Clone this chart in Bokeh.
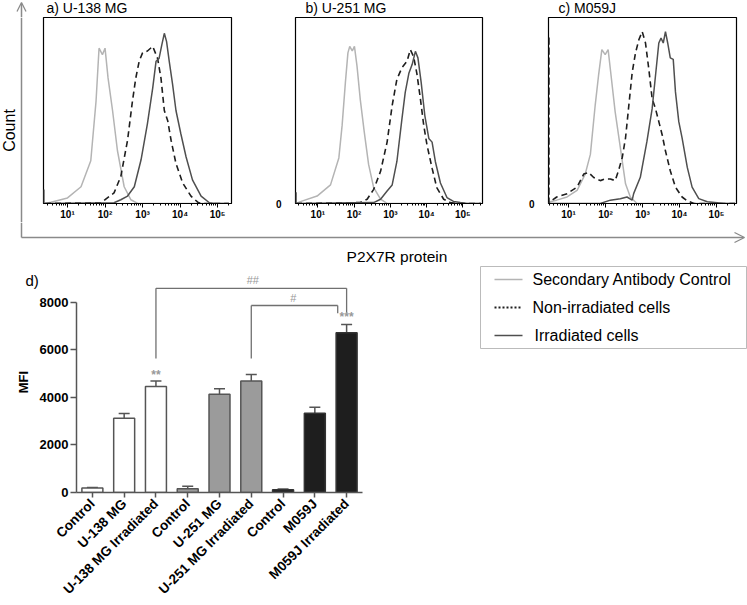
import math
import numpy as np
from bokeh.plotting import figure
from bokeh.layouts import row, column
from bokeh.models import (ColumnDataSource, FixedTicker, Range1d, FactorRange, Whisker, TeeHead,
                          Arrow, OpenHead, CustomJSTickFormatter)
from bokeh.transform import dodge
from bokeh.core.properties import value
from bokeh.embed import file_html
from bokeh.resources import INLINE

FONT = "Liberation Sans"

# ---------------- flow cytometry histograms (log10 intensity, % of max count) -------------
panel_titles = ["a) U-138 MG", "b) U-251 MG", "c) M059J"]

a_ctrl_log = [0.40, 0.56, 1.00, 1.36, 1.62, 1.76, 1.84, 1.93, 2.00, 2.08, 2.20, 2.33, 2.51, 2.69, 2.87, 5.30]
a_ctrl_cnt = [0, 0.7, 3, 9, 23, 55, 83.5, 80, 83.5, 67.5, 50, 28.5, 9, 2, 0, 0]
a_non_log = [0.40, 1.89, 2.24, 2.42, 2.60, 2.73, 2.82, 2.91, 3.00, 3.13, 3.27, 3.40, 3.49, 3.58, 3.67,
             3.76, 3.89, 4.07, 4.29, 4.47, 4.56, 5.30]
a_non_cnt = [0, 0.4, 5.7, 14.5, 34, 55, 67.5, 76.5, 81, 82, 84.5, 78, 67.5, 50, 44.5, 34, 21.5, 11, 4, 0.7, 0, 0]
a_irr_log = [0.37, 0.37, 0.37, 2.24, 2.42, 2.60, 2.78, 2.96, 3.13, 3.27, 3.36, 3.44, 3.51, 3.58, 3.64,
             3.71, 3.80, 3.89, 4.02, 4.16, 4.33, 4.56, 4.78, 4.91, 5.30]
a_irr_cnt = [0, 7.5, 0, 0.4, 2, 4, 9, 23.5, 43, 62, 76.5, 78, 85, 91.5, 87, 76.5, 64, 50, 37.5, 25, 12.7,
             4, 0.4, 0, 0]

b_ctrl_log = [0.40, 0.52, 0.98, 1.35, 1.58, 1.67, 1.76, 1.83, 1.88, 1.95, 2.01, 2.08, 2.17, 2.28, 2.40,
              2.54, 2.73, 2.91, 5.50]
b_ctrl_cnt = [0, 1, 4, 10, 24.5, 42, 65, 81, 84.5, 82, 84.5, 74, 56, 38.5, 21, 8.5, 2.3, 0, 0]
b_non_log = [0.40, 2.17, 2.36, 2.54, 2.73, 2.91, 3.05, 3.18, 3.32, 3.46, 3.55, 3.64, 3.73, 3.83, 3.92,
             4.01, 4.15, 4.28, 4.47, 4.65, 4.84, 5.50]
b_non_cnt = [0, 0.5, 2.3, 7.6, 17.3, 33, 52.7, 66.8, 73, 76.5, 82.7, 79, 70, 56, 42, 31.4, 19, 8.5, 2.3,
             0.5, 0, 0]
b_irr_log = [0.40, 0.40, 0.40, 2.54, 2.73, 2.91, 3.05, 3.18, 3.32, 3.41, 3.51, 3.60, 3.69, 3.76, 3.85,
             3.95, 4.06, 4.15, 4.24, 4.38, 4.56, 4.74, 4.93, 5.11, 5.50]
b_irr_cnt = [0, 6, 0, 0.5, 2.3, 6.7, 10, 22.6, 45.6, 59.7, 70, 74.7, 81.8, 78.3, 65, 47.3, 35, 33, 22.6,
             11, 3.2, 1.1, 0.5, 0, 0]

c_ctrl_log = [0.47, 0.50, 0.68, 0.96, 1.23, 1.45, 1.59, 1.72, 1.81, 1.90, 1.99, 2.07, 2.15, 2.26, 2.40,
              2.54, 2.67, 2.85, 5.50]
c_ctrl_cnt = [0, 0.9, 1.8, 3.5, 7, 15.8, 26.4, 52.8, 68.7, 82.7, 80, 82.7, 68.7, 49.3, 30, 10.6, 3.5, 0, 0]
c_non_log = [0.47, 0.47, 0.47, 0.50, 0.68, 0.96, 1.23, 1.41, 1.54, 1.68, 1.86, 1.99, 2.13, 2.26, 2.35,
             2.45, 2.54, 2.63, 2.72, 2.81, 2.90, 2.99, 3.08, 3.17, 3.26, 3.35, 3.44, 3.53, 3.62, 3.75,
             3.89, 4.07, 4.21, 4.39, 5.50]
c_non_cnt = [0, 90, 0, 0.9, 3.5, 5.3, 8.8, 15.8, 16.7, 14, 12.3, 13.2, 13.2, 12.3, 17.6, 24.6, 35.2, 52.8,
             70.4, 81, 88, 92.4, 86.3, 72.2, 56.3, 51, 44, 37, 28.2, 17.6, 8.8, 3.5, 1.4, 0, 0]
c_irr_log = [0.47, 1.86, 2.13, 2.40, 2.58, 2.72, 2.76, 2.94, 3.12, 3.26, 3.35, 3.44, 3.50, 3.56, 3.62,
             3.68, 3.75, 3.83, 3.89, 3.98, 4.07, 4.21, 4.34, 4.52, 4.75, 5.02, 5.20, 5.50]
c_irr_cnt = [0, 0, 1.8, 2.6, 3.5, 1.8, 5.3, 14.1, 33.5, 51, 68.7, 86.3, 88.9, 86.3, 92.4, 86.3, 78.3,
             77.5, 60, 44, 35.2, 19.4, 8.8, 2.6, 0.9, 0.4, 0, 0]

decade_ticks = [10, 100, 1000, 10000, 100000]
decade_labels = ["10\u00b9", "10\u00b2", "10\u00b3", "10\u2074", "10\u2075"]
minor_tick_vals = [m * 10 ** k for k in range(0, 6) for m in range(2, 10)]

legend_labels = ["Secondary Antibody Control", "Non-irradiated cells", "Irradiated cells"]

# ---------------- bar chart (MFI) ----------------
bar_ids = ["ctrl_u138", "u138", "u138_irr", "ctrl_u251", "u251", "u251_irr", "ctrl_m059j", "m059j", "m059j_irr"]
bar_labels = ["Control", "U-138 MG", "U-138 MG Irradiated", "Control", "U-251 MG", "U-251 MG Irradiated",
              "Control", "M059J", "M059J Irradiated"]
mfi = [190, 3120, 4460, 160, 4130, 4690, 120, 3340, 6720]
sem = [25, 200, 230, 100, 240, 280, 25, 250, 350]
bar_fill = ["white", "white", "white", "#9b9b9b", "#9b9b9b", "#9b9b9b", "#1e1e1e", "#1e1e1e", "#1e1e1e"]
bar_line = ["#555555"] * 6 + ["#333333"] * 3
mfi_ticks = [0, 2000, 4000, 6000, 8000]

star_x = ["u138_irr", "m059j_irr"]
star_y = [4930, 7380]
star_text = ["**", "***"]

bracket_left = ["u138_irr", "u251_irr"]
bracket_right = ["m059j_irr", "m059j_irr"]
bracket_right_offset = [0.0, -0.28]
bracket_left_bottom = [5640, 5640]
bracket_top = [8590, 7870]
bracket_right_bottom = [7540, 7540]
bracket_text = ["##", "#"]
bracket_text_x = ["u251_irr", "ctrl_m059j"]
bracket_text_offset = [0.05, 0.32]
bracket_text_y = [8960, 8200]

CTRL_COLOR = "#b4b4b4"
NON_COLOR = "#1e1e1e"
IRR_COLOR = "#4f4f4f"
GUIDE = "#8a8a8a"
legend_colors = [CTRL_COLOR, NON_COLOR, IRR_COLOR]
legend_dashes = ["solid", "2 2", "solid"]
legend_widths = [1.5, 2.0, 1.5]

TITLE_H = 17
HIST_H = 205


def hist_panel(width, border_left, border_right, log_lo, log_hi, curves, zero_label):
    p = figure(width=width, height=HIST_H, x_axis_type="log",
               x_range=Range1d(10 ** log_lo, 10 ** log_hi), y_range=Range1d(0, 100),
               output_backend="svg", toolbar_location=None, frame_align=False,
               min_border_left=border_left, min_border_right=border_right,
               min_border_top=0, min_border_bottom=17)
    p.title.visible = False
    p.grid.visible = False
    p.outline_line_color = "black"
    p.outline_line_width = 1.2
    p.background_fill_color = "white"

    (cl, cc), (nl, nc), (il, ic) = curves
    p.line(10 ** np.array(cl), cc, line_color=CTRL_COLOR, line_width=1.5)
    p.line(10 ** np.array(nl), nc, line_color=NON_COLOR, line_width=1.6, line_dash="6 4")
    p.line(10 ** np.array(il), ic, line_color=IRR_COLOR, line_width=1.5)

    ax = p.xaxis[0]
    ax.ticker = FixedTicker(ticks=decade_ticks, minor_ticks=minor_tick_vals)
    ax.major_label_overrides = dict(zip(decade_ticks, decade_labels))
    ax.major_label_text_font = FONT
    ax.major_label_text_font_size = "10px"
    ax.major_label_text_font_style = "bold"
    ax.major_label_text_color = "black"
    ax.major_label_standoff = 1
    ax.major_tick_in = 0
    ax.major_tick_out = 4
    ax.minor_tick_in = 0
    ax.minor_tick_out = 2
    ax.axis_line_color = "black"
    ax.major_tick_line_color = "black"
    ax.minor_tick_line_color = "black"

    ay = p.yaxis[0]
    if zero_label:
        ay.ticker = FixedTicker(ticks=[0])
        ay.axis_line_color = None
        ay.major_tick_line_color = None
        ay.minor_tick_line_color = None
        ay.major_label_text_font = FONT
        ay.major_label_text_font_size = "10px"
        ay.major_label_text_font_style = "bold"
        ay.major_label_text_color = "black"
        ay.major_label_standoff = 8
    else:
        ay.visible = False
    return p


def blank(width, height):
    p = figure(width=width, height=height, x_range=Range1d(0, width), y_range=Range1d(0, height),
               output_backend="svg", toolbar_location=None, min_border=0, frame_align=False,
               x_axis_location=None, y_axis_location=None)
    p.title.visible = False
    p.grid.visible = False
    p.outline_line_color = None
    return p


# strip with the panel titles and the tip of the "Count" arrow
ts = blank(747, TITLE_H)
ts.add_layout(Arrow(x_start=21, y_start=0, x_end=21, y_end=TITLE_H - 2, line_color=GUIDE, line_width=1.5,
                    end=OpenHead(size=9, line_color=GUIDE, line_width=1.3)))
ts.text(x=[46, 305, 558], y=[9.5, 9.5, 9.5], text=panel_titles, text_align="left", text_baseline="middle",
        text_font=value(FONT), text_font_size="14px", text_color="black")

ha = hist_panel(228, 9, 31, 0.36, 5.37,
                [(a_ctrl_log, a_ctrl_cnt), (a_non_log, a_non_cnt), (a_irr_log, a_irr_cnt)], False)
hb = hist_panel(253, 33, 33, 0.385, 5.54,
                [(b_ctrl_log, b_ctrl_cnt), (b_non_log, b_non_cnt), (b_irr_log, b_irr_cnt)], True)
hc = hist_panel(232, 33, 11, 0.458, 5.54,
                [(c_ctrl_log, c_ctrl_cnt), (c_non_log, c_non_cnt), (c_irr_log, c_irr_cnt)], True)

# left strip: "Count" axis
ls = blank(34, HIST_H)
ls.segment(x0=[21], y0=[0], x1=[21], y1=[HIST_H], line_color=GUIDE, line_width=1.5)
ls.text(x=[9], y=[HIST_H + TITLE_H - 130], text=["Count"], angle=math.pi / 2, text_align="center",
        text_baseline="middle", text_font=value(FONT), text_font_size="16px", text_color="black")

# bottom strip: horizontal "P2X7R protein" arrow
BS_H = 43
bs = blank(747, BS_H)
bs.segment(x0=[21], y0=[BS_H], x1=[21], y1=[BS_H - 15], line_color=GUIDE, line_width=1.5)
bs.add_layout(Arrow(x_start=21, y_start=BS_H - 15, x_end=744, y_end=BS_H - 15, line_color=GUIDE,
                    line_width=1.5, end=OpenHead(size=10, line_color=GUIDE, line_width=1.3)))
bs.text(x=[396.5], y=[9], text=["P2X7R protein"], text_align="center", text_baseline="middle",
        text_font=value(FONT), text_font_size="15.5px", text_color="black")

# bar chart
BOT_H = 605 - TITLE_H - HIST_H - BS_H
bar = figure(width=380, height=BOT_H, x_range=FactorRange(factors=bar_ids), y_range=Range1d(0, 9300),
             title="\nd)", output_backend="svg", toolbar_location=None, frame_align=False,
             min_border_left=76, min_border_right=18, min_border_top=6, min_border_bottom=BOT_H - 6 - 221)
bar.title.align = "left"
bar.title.offset = -51
bar.title.standoff = -34
bar.title.text_font = FONT
bar.title.text_font_size = "15px"
bar.title.text_font_style = "normal"
bar.title.text_color = "black"
bar.grid.visible = False
bar.outline_line_color = None

src = ColumnDataSource(dict(id=bar_ids, mfi=mfi, upper=[m + s for m, s in zip(mfi, sem)],
                            fill=bar_fill, line=bar_line))
bar.vbar(x="id", top="mfi", width=0.66, fill_color="fill", line_color="line", line_width=1.5, source=src)
bar.add_layout(Whisker(base="id", upper="upper", lower="mfi", source=src, dimension="height",
                       line_color="#555555", line_width=1.5, lower_head=None,
                       upper_head=TeeHead(size=11, line_color="#555555", line_width=1.5)))

for i in range(len(bracket_left)):
    bsrc = ColumnDataSource(dict(l=[bracket_left[i]], r=[bracket_right[i]], lb=[bracket_left_bottom[i]],
                                 top=[bracket_top[i]], rb=[bracket_right_bottom[i]]))
    rx = dodge("r", bracket_right_offset[i], range=bar.x_range)
    kw = dict(source=bsrc, line_color="#707070", line_width=1.3)
    bar.segment(x0="l", y0="lb", x1="l", y1="top", **kw)
    bar.segment(x0="l", y0="top", x1=rx, y1="top", **kw)
    bar.segment(x0=rx, y0="top", x1=rx, y1="rb", **kw)
    tsrc = ColumnDataSource(dict(x=[bracket_text_x[i]], y=[bracket_text_y[i]], t=[bracket_text[i]]))
    bar.text(x=dodge("x", bracket_text_offset[i], range=bar.x_range), y="y", text="t", source=tsrc,
             text_align="center", text_baseline="middle", text_font=value(FONT),
             text_font_size="11px", text_color="#999999")

bar.text(x=star_x, y=star_y, text=star_text, text_align="center", text_baseline="middle",
         text_font=value(FONT), text_font_size="12px", text_font_style="bold", text_color="#999999")

yax = bar.yaxis[0]
yax.ticker = FixedTicker(ticks=mfi_ticks)
yax.bounds = (0, 8000)
yax.axis_label = "MFI"
yax.axis_label_text_font = FONT
yax.axis_label_text_font_size = "13px"
yax.axis_label_text_font_style = "bold"
yax.axis_label_text_color = "black"
yax.axis_label_standoff = 6
yax.major_label_text_font = FONT
yax.major_label_text_font_size = "13px"
yax.major_label_text_font_style = "bold"
yax.major_label_text_color = "black"
yax.major_label_standoff = 2
yax.major_tick_in = 0
yax.major_tick_out = 6
yax.minor_tick_line_color = None
yax.axis_line_color = "#555555"
yax.axis_line_width = 1.5
yax.major_tick_line_color = "#555555"
yax.major_tick_line_width = 1.5

xax = bar.xaxis[0]
xax.formatter = CustomJSTickFormatter(args=dict(ids=bar_ids, labels=bar_labels),
                                      code="const i = ids.indexOf(tick); return i >= 0 ? labels[i] : tick;")
xax.major_label_orientation = math.pi / 4
xax.major_label_text_font = FONT
xax.major_label_text_font_size = "13.5px"
xax.major_label_text_font_style = "bold"
xax.major_label_text_color = "black"
xax.major_label_standoff = 4
xax.major_tick_in = 0
xax.major_tick_out = 5
xax.axis_line_color = "#555555"
xax.axis_line_width = 1.5
xax.major_tick_line_color = "#555555"
xax.major_tick_line_width = 1.5

# legend panel (drawn as a key box beside the bar chart)
lf = blank(367, BOT_H)
lf.quad(left=[100], right=[366], top=[BOT_H - 1], bottom=[BOT_H - 83], fill_color="white",
        line_color="#bbbbbb", line_width=1)
row_y = [BOT_H - 14, BOT_H - 42, BOT_H - 70]
for i in range(3):
    lf.segment(x0=[114], y0=[row_y[i]], x1=[142], y1=[row_y[i]], line_color=legend_colors[i],
               line_width=legend_widths[i], line_dash=legend_dashes[i])
lf.text(x=[152, 152, 154], y=row_y, text=legend_labels, text_baseline="middle", text_align="left",
        text_font=value(FONT), text_font_size="16px", text_color="black")

layout = column(ts, row(ls, ha, hb, hc), bs, row(bar, lf))
open("out.html", "w").write(file_html(layout, INLINE))
